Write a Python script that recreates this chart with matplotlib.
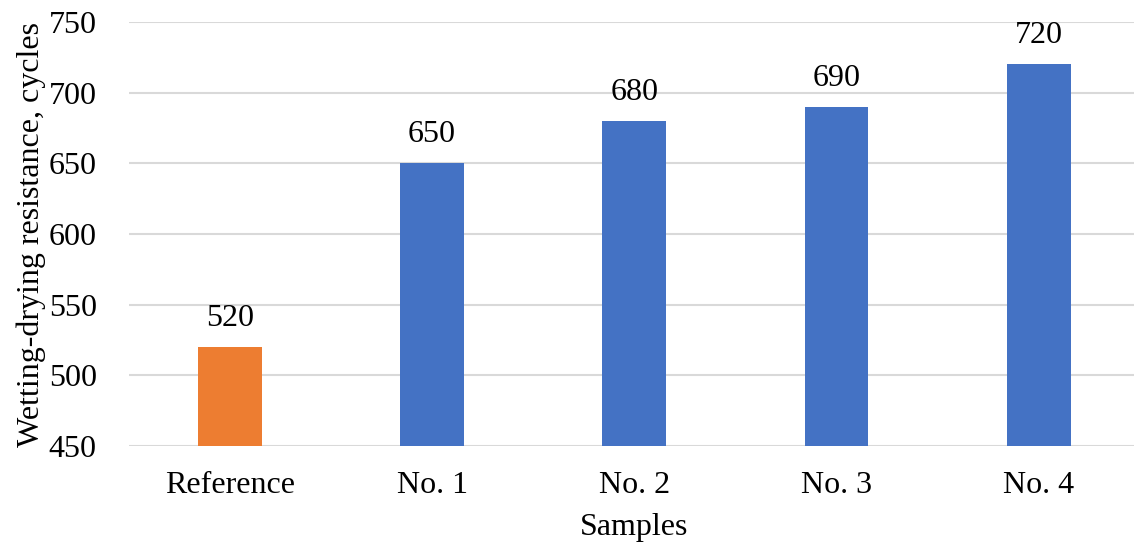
import matplotlib.pyplot as plt

# 데이터
samples = ['Reference', 'No. 1', 'No. 2', 'No. 3', 'No. 4']
cycles = [520, 650, 680, 690, 720]
colors = ['#ED7D31', '#4472C4', '#4472C4', '#4472C4', '#4472C4']
y_ticks = [450, 500, 550, 600, 650, 700, 750]

plt.rcParams['font.family'] = ['Liberation Serif', 'DejaVu Serif']
fs = 23

fig = plt.figure(figsize=(11.34, 5.44), dpi=100)
ax = fig.add_axes([0.1135, 0.18, 0.8917, 0.7796])

x = range(len(samples))
bars = ax.bar(x, cycles, width=0.316, color=colors, zorder=3)

# 값 라벨
for xi, v in zip(x, cycles):
    ax.annotate(str(v), (xi, v), xytext=(0, 10), textcoords='offset points',
                ha='center', va='bottom', fontsize=fs)

ax.set_xlim(-0.5, len(samples) - 0.5)
ax.set_ylim(450, 750)
ax.set_yticks(y_ticks)
ax.set_xticks(list(x))
ax.set_xticklabels(samples)
ax.tick_params(axis='both', length=0, labelsize=fs)
ax.tick_params(axis='y', pad=23)
ax.tick_params(axis='x', pad=18)

ax.grid(axis='y', color='#D9D9D9', linewidth=1.5, zorder=0)
for s in ax.spines.values():
    s.set_visible(False)

ax.set_xlabel('Samples', fontsize=fs, labelpad=9)
ax.set_ylabel('Wetting-drying resistance, cycles', fontsize=fs, labelpad=2)

fig.savefig('out.png', dpi=100)
